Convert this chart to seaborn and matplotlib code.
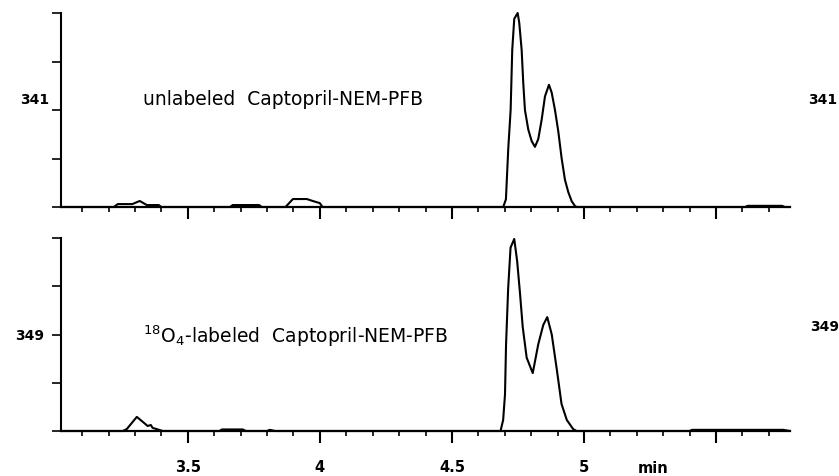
import numpy as np
import pandas as pd
import matplotlib
matplotlib.use("Agg")
import matplotlib.pyplot as plt
import matplotlib.transforms as mtransforms
import seaborn as sns

# ---- data ----
time_341 = [3.02, 3.22, 3.235, 3.29, 3.318, 3.345, 3.39, 3.40, 3.66, 3.67, 3.70, 3.77, 3.78,
            3.87, 3.898, 3.924, 3.951, 3.973, 4.00, 4.01,
            4.6943, 4.7045, 4.7133, 4.7223, 4.7284, 4.7360, 4.7489, 4.7549, 4.7640, 4.7701,
            4.7765, 4.7890, 4.8019, 4.8144, 4.8269, 4.8398, 4.8523, 4.8674, 4.8777, 4.8902,
            4.9027, 4.9155, 4.9280, 4.9405, 4.9534, 4.9659, 4.9723,
            5.61, 5.62, 5.75, 5.76, 5.78]
signal_341 = [0, 0, 1.5, 1.5, 3.1, 1.0, 1.0, 0, 0, 1.0, 1.0, 1.0, 0,
              0, 4.1, 4.1, 4.1, 3.1, 2.0, 0,
              0, 4, 30, 50, 81, 97, 100, 95, 81, 64,
              50, 40, 34, 31, 35, 45, 57, 63, 59, 50,
              39, 25, 14, 7.7, 3, 0.5, 0,
              0, 0.6, 0.6, 0, 0]

time_349 = [3.02, 3.254, 3.269, 3.307, 3.330, 3.348, 3.360, 3.367, 3.394, 3.405,
            3.62, 3.629, 3.708, 3.72, 3.80, 3.811, 3.83,
            4.684, 4.694, 4.701, 4.705, 4.713, 4.722, 4.736, 4.747, 4.758, 4.768,
            4.783, 4.806, 4.827, 4.846, 4.861, 4.878, 4.897, 4.915, 4.935, 4.959, 4.972,
            5.40, 5.409, 5.754, 5.78]
signal_349 = [0, 0, 1.0, 7.3, 4.7, 2.6, 3.1, 1.6, 0.5, 0,
              0, 0.8, 0.8, 0, 0, 0.6, 0,
              0, 5.7, 19, 45, 74, 95, 99.5, 88, 71, 54,
              38, 30, 45, 55, 59, 50, 32, 14, 5.7, 1, 0,
              0, 0.6, 0.6, 0]

panel_labels = ["341", "349"]
trace_titles = ["unlabeled  Captopril-NEM-PFB", r"$^{18}$O$_4$-labeled  Captopril-NEM-PFB"]
xtick_major = [3.5, 4.0, 4.5, 5.0, 5.5]
xtick_labels = ["3.5", "4", "4.5", "5", ""]
x_unit = "min"

df = pd.concat([
    pd.DataFrame({"time": time_341, "signal": signal_341, "mz": "341"}),
    pd.DataFrame({"time": time_349, "signal": signal_349, "mz": "349"}),
])

sns.set_style("ticks")
plt.rcParams["font.family"] = ["DejaVu Sans"]
plt.rcParams.update({"text.color": "black", "axes.edgecolor": "black",
                     "xtick.color": "black", "ytick.color": "black",
                     "axes.labelcolor": "black"})

fig = plt.figure(figsize=(8.39, 4.77), dpi=100)
W, H = 839, 477
left, right = 61, 790
ax_top = fig.add_axes([left / W, 1 - 208 / H, (right - left) / W, 194 / H])
ax_bot = fig.add_axes([left / W, 1 - 432 / H, (right - left) / W, 193 / H])

label_pos = {
    "341": dict(lx=-0.036, ly=0.557, rx=1.045, ry=0.557, ty=0.557),
    "349": dict(lx=-0.043, ly=0.497, rx=1.047, ry=0.544, ty=0.497),
}

for ax, mz, title in zip([ax_top, ax_bot], panel_labels, trace_titles):
    sub = df[df["mz"] == mz]
    sns.lineplot(data=sub, x="time", y="signal", ax=ax, color="black",
                 linewidth=1.5, estimator=None, sort=False, legend=False)
    for ln in ax.lines:
        ln.set_clip_on(False)
    ax.set_xlim(3.02, 5.78)
    ax.set_ylim(0, 100)
    sns.despine(ax=ax)
    ax.spines["left"].set_linewidth(1.5)
    ax.spines["bottom"].set_linewidth(1.6)
    ax.set_yticks([0, 25, 50, 75, 100])
    ax.set_yticklabels([])
    ax.tick_params(axis="y", direction="out", length=6.5, width=1.2)
    ax.set_xticks(xtick_major)
    ax.set_xticks(np.arange(3.1, 5.75, 0.1), minor=True)
    ax.tick_params(axis="x", which="major", direction="out", length=8.5, width=1.5)
    ax.tick_params(axis="x", which="minor", direction="out", length=3.6, width=1.2)
    ax.set_xlabel("")
    ax.set_ylabel("")
    p = label_pos[mz]
    ax.text(p["lx"], p["ly"], mz, transform=ax.transAxes, ha="center", va="center",
            fontsize=10, fontweight="bold")
    ax.text(p["rx"], p["ry"], mz, transform=ax.transAxes, ha="center", va="center",
            fontsize=10, fontweight="bold")
    ax.text(0.1125, p["ty"], title, transform=ax.transAxes, ha="left", va="center",
            fontsize=13.5)

ax_top.set_xticklabels([])
ax_bot.set_xticklabels(xtick_labels, fontsize=10.5, fontweight="bold")
ax_bot.tick_params(axis="x", which="major", pad=12)
trans = mtransforms.blended_transform_factory(ax_bot.transData, ax_bot.transAxes)
ax_bot.text(5.261, -0.187, x_unit, transform=trans, ha="center", va="center",
            fontsize=10.5, fontweight="bold")

fig.savefig("out.png", dpi=100, facecolor="white")
